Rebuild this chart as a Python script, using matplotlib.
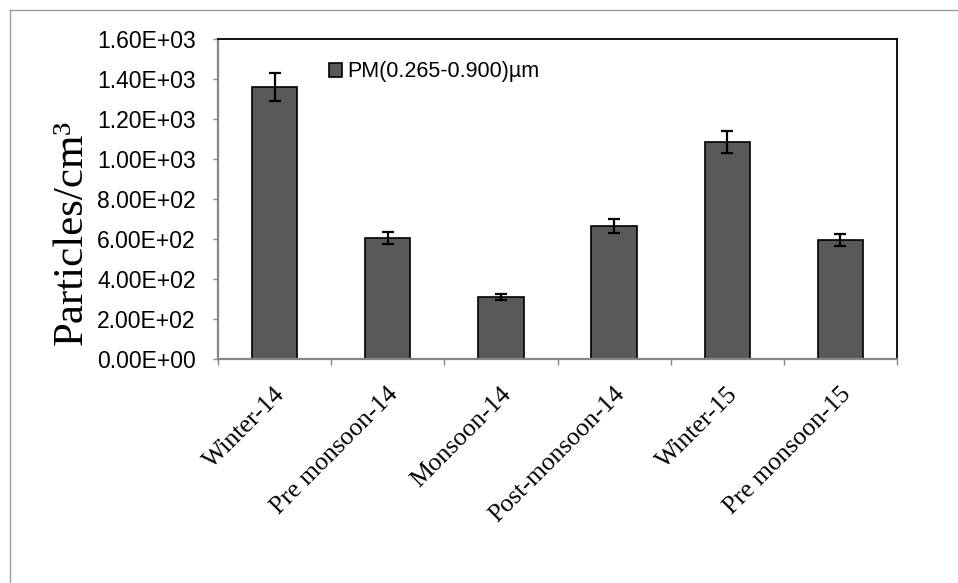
import numpy as np
import matplotlib.pyplot as plt
from matplotlib.lines import Line2D
from matplotlib.ticker import FuncFormatter
from matplotlib.transforms import ScaledTranslation

seasons = ['Winter-14', 'Pre monsoon-14', 'Monsoon-14',
           'Post-monsoon-14', 'Winter-15', 'Pre monsoon-15']
pm_counts = [1360, 605, 308, 663, 1085, 596]
pm_err = [68, 28, 15, 35, 54, 31]
series_label = 'PM(0.265-0.900)µm'

W, H = 958, 583
fig = plt.figure(figsize=(W / 100, H / 100), dpi=100)
ax = fig.add_axes([218 / W, 1 - 359 / H, (897 - 218) / W, (359 - 39) / H])

x = np.arange(len(seasons))
ax.bar(x, pm_counts, width=0.4, color='#595959', edgecolor='black',
       linewidth=1.2, label=series_label, zorder=2)
ax.errorbar(x, pm_counts, yerr=pm_err, fmt='none', ecolor='black',
            elinewidth=1.6, capsize=4.3, capthick=1.6, zorder=3)

ax.set_xlim(-0.5, len(seasons) - 0.5)
ax.set_ylim(0, 1600)
ax.set_yticks(np.arange(0, 1601, 200))
ax.yaxis.set_major_formatter(FuncFormatter(lambda v, p: f'{v:.2E}'))

# frame: grey axis lines on left/bottom, black border top/right
for side in ('left', 'bottom'):
    ax.spines[side].set_color('#868686')
    ax.spines[side].set_linewidth(1.6)
for side in ('top', 'right'):
    ax.spines[side].set_color('black')
    ax.spines[side].set_linewidth(1.3)

ax.tick_params(axis='y', direction='out', length=3.6, width=1,
               color='#868686', pad=12.5)
for lab in ax.get_yticklabels():
    lab.set_fontfamily('Liberation Sans')
    lab.set_fontsize(16.5)

# category boundaries carry the tick marks, names are drawn separately
ax.set_xticks(np.arange(-0.5, len(seasons)))
ax.set_xticklabels([])
ax.tick_params(axis='x', direction='out', length=4.5, width=1,
               color='#868686')

shift = ScaledTranslation(-1 / 100, -24 / 100, fig.dpi_scale_trans)
for xi, name in zip(x, seasons):
    ax.text(xi, 0, name, transform=ax.get_xaxis_transform() + shift,
            rotation=45, rotation_mode='anchor', ha='right', va='top',
            fontfamily='Liberation Serif', fontsize=18.5)

ax.set_ylabel('Particles/cm³', fontfamily='Liberation Serif', fontsize=31)
ax.yaxis.set_label_coords(-0.187, 0.397)

ax.legend(loc='center left', bbox_to_anchor=(329 / W, 1 - 72 / H),
          bbox_transform=fig.transFigure, frameon=False,
          prop={'family': 'Liberation Sans', 'size': 15.5},
          handlelength=0.62, handleheight=0.62, handletextpad=0.25,
          borderpad=0, borderaxespad=0)

# outer chart-area border
fig.add_artist(Line2D([9.5 / W, 9.5 / W], [0, 1 - 9.5 / H],
                      transform=fig.transFigure, color='#9a9a9a', lw=1))
fig.add_artist(Line2D([9.5 / W, 1], [1 - 9.5 / H, 1 - 9.5 / H],
                      transform=fig.transFigure, color='#9a9a9a', lw=1))

fig.savefig('out.png', dpi=100)
